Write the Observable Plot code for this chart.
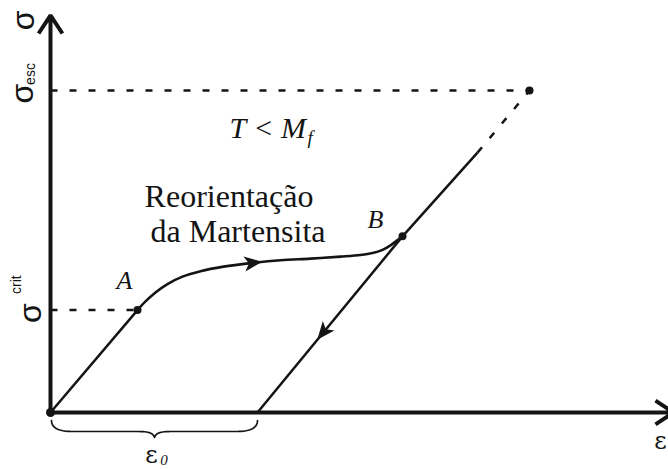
<!DOCTYPE html>
<html>
<head>
<meta charset="utf-8">
<script src="https://cdn.jsdelivr.net/npm/d3@7"></script>
<script src="https://cdn.jsdelivr.net/npm/@observablehq/plot@0.6"></script>
<style>
  html, body { margin: 0; padding: 0; background: #fff; overflow: hidden; }
</style>
</head>
<body>
<div id="chart"></div>
<script>
// Stress–strain path of a shape memory alloy below M_f:
// elastic loading, martensite reorientation plateau, elastic unloading to ε0.
// Strain in arbitrary units, stress normalised so that σ_esc = 1.

const sigmaEsc = 1.0;
const sigmaCrit = 0.318;
const eps0 = 2.07;            // residual strain after unloading

const pointA = {x: 0.87, y: 0.318};
const pointB = {x: 3.52, y: 0.547};
const pointEsc = {x: 4.79, y: 1.0};
const solidEnd = {x: 4.27, y: 0.807};   // solid part of the elastic line ends here

// reorientation plateau A → B
const plateauStrain = [0.87, 0.95, 1.05, 1.17, 1.32, 1.50, 1.73, 2.00, 2.30, 2.60, 2.90, 3.10, 3.22, 3.32, 3.40, 3.46, 3.52];
const plateauStress = [0.318, 0.345, 0.373, 0.399, 0.422, 0.439, 0.453, 0.464, 0.473, 0.478, 0.484, 0.489, 0.495, 0.505, 0.519, 0.533, 0.547];

// direction arrows: one on the plateau, one on the unloading branch
const arrowPlateau = {x: 2.02, y: 0.4645};
const arrowUnload = {x: 2.73, y: 0.25};

// axis extents (arrow tips)
const xAxisEnd = 6.23;
const yAxisEnd = 1.233;

const W = 668, H = 469;
const mTop = 9.5, mRight = 0, mBottom = 57, mLeft = 50;
const xDomain = [0, 6.18];
const yDomain = [0, 1.25];

const ink = "#141414";
const serif = "'Liberation Serif', 'Times New Roman', serif";
const greek = "'DejaVu Serif', serif";
const sans = "'Liberation Sans', Arial, sans-serif";

const xs = Plot.scale({x: {domain: xDomain, range: [mLeft, W - mRight]}});
const ys = Plot.scale({y: {domain: yDomain, range: [H - mBottom, mTop]}});

const plateau = plateauStrain.map((x, i) => ({x, y: plateauStress[i]}));

// screen-space angle (degrees) of the direction p → q
function screenAngle(p, q) {
  return Math.atan2(ys.apply(q.y) - ys.apply(p.y), xs.apply(q.x) - xs.apply(p.x)) * 180 / Math.PI;
}

// filled barbed arrowhead pointing along angle
function arrowhead(angle, len = 18, half = 7.5) {
  const a = angle * Math.PI / 180, c = Math.cos(a), s = Math.sin(a);
  const pts = [[0.55 * len, 0], [-0.45 * len, -half], [-0.2 * len, 0], [-0.45 * len, half]];
  return {
    draw(ctx) {
      pts.forEach(([px, py], i) => {
        const X = px * c - py * s, Y = px * s + py * c;
        if (i) ctx.lineTo(X, Y); else ctx.moveTo(X, Y);
      });
      ctx.closePath();
    }
  };
}

// curly brace under the strain axis spanning [0, ε0]
function brace(xa, xb) {
  const x0 = xs.apply(xa) + 1, x1 = xs.apply(xb);
  const top = ys.apply(0) + 8, flat = top + 11, tip = top + 17;
  const mid = (x0 + x1) / 2;
  const bez = (p0, p1, p2, p3, n = 14) => d3.range(n + 1).map(i => {
    const t = i / n, u = 1 - t;
    return [
      u*u*u*p0[0] + 3*u*u*t*p1[0] + 3*u*t*t*p2[0] + t*t*t*p3[0],
      u*u*u*p0[1] + 3*u*u*t*p1[1] + 3*u*t*t*p2[1] + t*t*t*p3[1]
    ];
  });
  const left = [
    ...bez([x0, top], [x0, top + 8], [x0 + 8, flat], [x0 + 22, flat]),
    ...bez([mid - 16, flat], [mid - 5, flat], [mid - 1, flat + 2], [mid, tip])
  ];
  const right = left.slice().reverse().map(([x, y]) => [2 * mid - x, y]);
  return [...left, ...right.slice(1)].map(([x, y]) => ({x: xs.invert(x), y: ys.invert(y)}));
}

const dash = "7,12";

const chart = Plot.plot({
  width: W,
  height: H,
  marginTop: mTop,
  marginRight: mRight,
  marginBottom: mBottom,
  marginLeft: mLeft,
  x: {domain: xDomain, axis: null},
  y: {domain: yDomain, axis: null},
  style: {background: "#fff", color: ink},
  marks: [
    // guide lines to the stress levels
    Plot.link([
      {x1: 0, y1: sigmaCrit, x2: pointA.x, y2: sigmaCrit},
      {x1: 0, y1: sigmaEsc, x2: pointEsc.x, y2: sigmaEsc}
    ], {x1: "x1", y1: "y1", x2: "x2", y2: "y2", stroke: ink, strokeWidth: 2.5, strokeDasharray: dash}),
    Plot.link([{x1: solidEnd.x, y1: solidEnd.y, x2: pointEsc.x, y2: pointEsc.y}],
      {x1: "x1", y1: "y1", x2: "x2", y2: "y2", stroke: ink, strokeWidth: 2.5, strokeDasharray: dash}),

    // axes
    Plot.arrow([
      {x1: 0, y1: 0, x2: xAxisEnd, y2: 0},
      {x1: 0, y1: 0, x2: 0, y2: yAxisEnd}
    ], {x1: "x1", y1: "y1", x2: "x2", y2: "y2", stroke: ink, strokeWidth: 4,
        headLength: 8.1, headAngle: 67, strokeLinejoin: "miter", strokeLinecap: "butt"}),

    // elastic loading O → A, unloading B → ε0, elastic line B → σ_esc
    Plot.link([
      {x1: 0, y1: 0, x2: pointA.x, y2: pointA.y},
      {x1: pointB.x, y1: pointB.y, x2: eps0, y2: 0},
      {x1: pointB.x, y1: pointB.y, x2: solidEnd.x, y2: solidEnd.y}
    ], {x1: "x1", y1: "y1", x2: "x2", y2: "y2", stroke: ink, strokeWidth: 2.5}),

    // reorientation plateau
    Plot.line(plateau, {x: "x", y: "y", curve: "catmull-rom", stroke: ink, strokeWidth: 2.6}),

    // brace marking ε0
    Plot.line(brace(0, eps0), {x: "x", y: "y", stroke: ink, strokeWidth: 1.7, curve: "linear"}),

    // direction arrows
    Plot.dot([arrowPlateau], {x: "x", y: "y", fill: ink, stroke: "none",
      symbol: arrowhead(screenAngle(plateau[7], plateau[8]) - 2)}),
    Plot.dot([arrowUnload], {x: "x", y: "y", fill: ink, stroke: "none",
      symbol: arrowhead(screenAngle(pointB, {x: eps0, y: 0}))}),

    // key points
    Plot.dot([{x: 0, y: 0}], {x: "x", y: "y", r: 4.5, fill: ink}),
    Plot.dot([pointA, pointB, pointEsc], {x: "x", y: "y", r: 4, fill: ink}),

    // point labels
    Plot.text([pointA], {x: "x", y: "y", text: () => "A", dx: -13, dy: -21, fontFamily: serif,
      fontStyle: "italic", fontSize: 26, lineAnchor: "bottom", textAnchor: "middle", fill: ink}),
    Plot.text([pointB], {x: "x", y: "y", text: () => "B", dx: -27, dy: -8, fontFamily: serif,
      fontStyle: "italic", fontSize: 26, lineAnchor: "bottom", textAnchor: "middle", fill: ink}),

    // temperature condition
    Plot.text([{x: 1.79, y: 0.851}], {x: "x", y: "y", text: () => "T < M", fontFamily: serif,
      fontStyle: "italic", fontSize: 30, textAnchor: "start", lineAnchor: "bottom", fill: ink}),
    Plot.text([{x: 1.79, y: 0.851}], {x: "x", y: "y", text: () => "f", dx: 78, dy: 6, fontFamily: serif,
      fontStyle: "italic", fontSize: 19, textAnchor: "start", lineAnchor: "bottom", fill: ink}),

    // plateau description
    Plot.text([
      {x: 1.785, y: 0.637, t: "Reorientação"},
      {x: 1.875, y: 0.531, t: "da Martensita"}
    ], {x: "x", y: "y", text: "t", fontFamily: serif, fontSize: 32, textAnchor: "middle",
        lineAnchor: "bottom", fill: ink}),

    // stress axis labels
    Plot.text([{x: 0, y: yAxisEnd}], {x: "x", y: "y", text: () => "σ", rotate: -90, dx: -27, dy: 5,
      fontFamily: sans, fontSize: 32, textAnchor: "middle", lineAnchor: "middle", fill: ink}),
    Plot.text([{x: 0, y: sigmaEsc}], {x: "x", y: "y", text: () => "σ", rotate: -90, dx: -28, dy: 3,
      fontFamily: sans, fontSize: 32, textAnchor: "middle", lineAnchor: "middle", fill: ink}),
    Plot.text([{x: 0, y: sigmaEsc}], {x: "x", y: "y", text: () => "esc", rotate: -90, dx: -19.5, dy: -16.5,
      fontFamily: sans, fontSize: 14, textAnchor: "middle", lineAnchor: "middle", fill: ink}),
    Plot.text([{x: 0, y: sigmaCrit}], {x: "x", y: "y", text: () => "σ", rotate: -90, dx: -19.5, dy: 3,
      fontFamily: sans, fontSize: 32, textAnchor: "middle", lineAnchor: "middle", fill: ink}),
    Plot.text([{x: 0, y: sigmaCrit}], {x: "x", y: "y", text: () => "crit", rotate: -90, dx: -34, dy: -25.5,
      fontFamily: sans, fontSize: 14, textAnchor: "middle", lineAnchor: "middle", fill: ink}),

    // strain axis labels
    Plot.text([{x: 6.10, y: 0}], {x: "x", y: "y", text: () => "ε", dy: 29, fontFamily: greek,
      fontSize: 24, textAnchor: "middle", lineAnchor: "middle", fill: ink}),
    Plot.text([{x: eps0 / 2, y: 0}], {x: "x", y: "y", text: () => "ε", dx: -2.5, dy: 43, fontFamily: greek,
      fontSize: 24, textAnchor: "middle", lineAnchor: "middle", fill: ink}),
    Plot.text([{x: eps0 / 2, y: 0}], {x: "x", y: "y", text: () => "0", dx: 10, dy: 48, fontFamily: serif,
      fontStyle: "italic", fontSize: 15, textAnchor: "middle", lineAnchor: "middle", fill: ink})
  ]
});

document.getElementById("chart").appendChild(chart);
</script>
</body>
</html>
